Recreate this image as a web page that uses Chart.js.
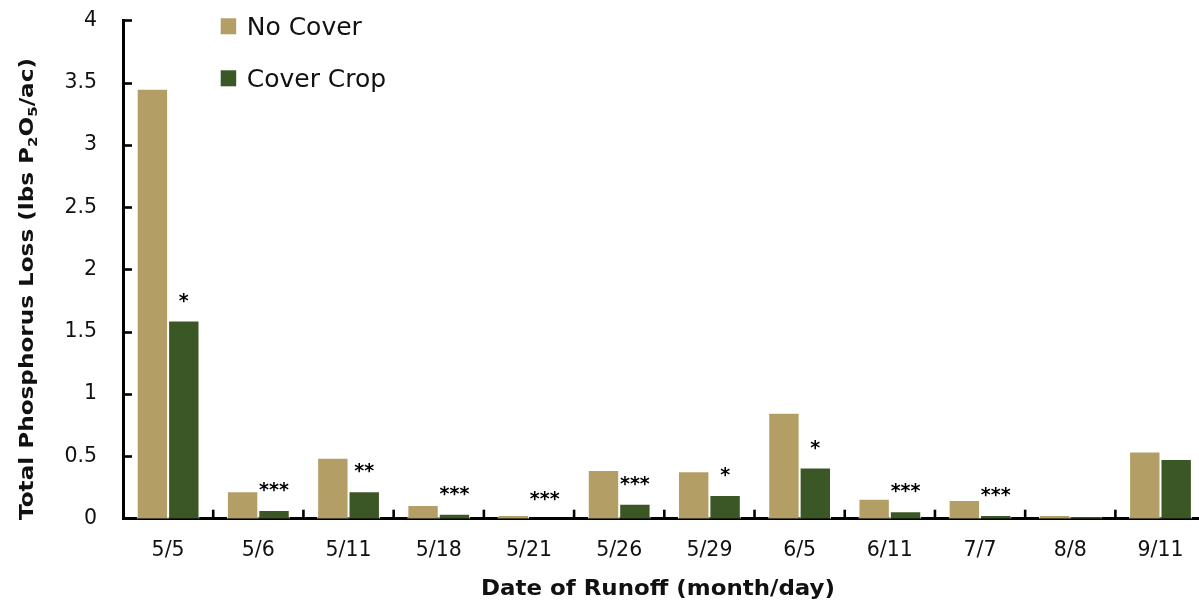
<!DOCTYPE html>
<html>
<head>
<meta charset="utf-8">
<script src="https://cdn.jsdelivr.net/npm/chart.js@4.4.0/dist/chart.umd.min.js"></script>
<style>
  html, body { margin: 0; padding: 0; background: #fff; overflow: hidden; }
  #wrap { width: 1210px; height: 607px; }
</style>
</head>
<body>
<div id="wrap"><canvas id="c" width="1210" height="607"></canvas></div>
<script>
// ---- data ----
const categories = ['5/5','5/6','5/11','5/18','5/21','5/26','5/29','6/5','6/11','7/7','8/8','9/11'];
const noCover    = [3.45, 0.22, 0.49, 0.11, 0.03, 0.39, 0.38, 0.85, 0.16, 0.15, 0.03, 0.54];
const coverCrop  = [1.59, 0.07, 0.22, 0.04, 0.00, 0.12, 0.19, 0.41, 0.06, 0.03, 0.02, 0.48];
const significance = ['*','***','**','***','***','***','*','*','***','***','',''];
const seriesNames = ['No Cover', 'Cover Crop'];
const yMin = 0, yMax = 4, yStep = 0.5;
const xTitle = 'Date of Runoff (month/day)';
const yTitleParts = [
  ['Total Phosphorus Loss (lbs P', false], ['2', true], ['O', false], ['5', true], ['/ac)', false]
];

// ---- styles ----
const TAN = '#B39F66';
const GREEN = '#3C5726';
const FONT = '"DejaVu Sans", sans-serif';
const TEXT = '#111';
const TARGET_TOP = 20.3;

function drawFitted(ctx, text, cx, baseline, targetW, font) {
  ctx.save();
  ctx.font = font;
  const w = ctx.measureText(text).width;
  const s = targetW / w;
  ctx.translate(cx, baseline);
  ctx.scale(s, 1);
  ctx.textAlign = 'center';
  ctx.textBaseline = 'alphabetic';
  ctx.fillText(text, 0, 0);
  ctx.restore();
}

const decor = {
  id: 'decor',
  afterDraw(chart) {
    const ctx = chart.ctx;
    const xs = chart.scales.x, ys = chart.scales.y;
    const area = chart.chartArea;
    ctx.save();
    ctx.strokeStyle = '#000';
    ctx.lineWidth = 2.6;
    // inner y ticks
    for (let v = yMin + yStep; v <= yMax + 1e-9; v += yStep) {
      const y = Math.round(ys.getPixelForValue(v)) + 0.5;
      ctx.beginPath(); ctx.moveTo(area.left, y); ctx.lineTo(area.left + 9, y); ctx.stroke();
    }
    // inner x ticks at category boundaries
    for (let i = 1; i < categories.length; i++) {
      const x = (xs.getPixelForValue(i - 1) + xs.getPixelForValue(i)) / 2;
      ctx.beginPath(); ctx.moveTo(x, area.bottom); ctx.lineTo(x, area.bottom - 9); ctx.stroke();
    }
    // significance stars
    const meta = chart.getDatasetMeta(1);
    ctx.fillStyle = '#000';
    ctx.font = 'bold 19px ' + FONT;
    ctx.textAlign = 'center';
    ctx.textBaseline = 'alphabetic';
    significance.forEach((s, i) => {
      if (!s) return;
      const bar = meta.data[i];
      ctx.fillText(s, bar.x, bar.y - 25 + 11);
    });
    // legend
    const leg = [[TAN, seriesNames[0], 18.3, 35], [GREEN, seriesNames[1], 70.3, 86.5]];
    ctx.font = '25px ' + FONT;
    ctx.textAlign = 'left';
    leg.forEach(([c, t, sy, by]) => {
      ctx.fillStyle = c;
      ctx.fillRect(220.7, sy, 15.5, 16);
      ctx.fillStyle = TEXT;
      ctx.fillText(t, 246.7, by);
    });
    // x title
    ctx.fillStyle = TEXT;
    drawFitted(ctx, xTitle, 658, 595, 354, 'bold 22px ' + FONT);
    // y title with subscripts
    ctx.save();
    const mainFont = 'bold 20px ' + FONT, subFont = 'bold 13px ' + FONT;
    let total = 0;
    yTitleParts.forEach(([t, sub]) => { ctx.font = sub ? subFont : mainFont; total += ctx.measureText(t).width; });
    const targetLen = 462;
    const sc = targetLen / total;
    ctx.translate(33, 289);
    ctx.rotate(-Math.PI / 2);
    ctx.scale(sc, 1);
    let x = -total / 2;
    ctx.textAlign = 'left';
    yTitleParts.forEach(([t, sub]) => {
      ctx.font = sub ? subFont : mainFont;
      ctx.fillText(t, x, sub ? 4 : 0);
      x += ctx.measureText(t).width;
    });
    ctx.restore();
    ctx.restore();
  }
};

const chart = new Chart(document.getElementById('c'), {
  type: 'bar',
  data: {
    labels: categories,
    datasets: [
      { label: seriesNames[0], data: noCover, backgroundColor: TAN,
        borderColor: '#ffffff', borderWidth: {top: 1, left: 1, right: 1, bottom: 0}, borderSkipped: 'start' },
      { label: seriesNames[1], data: coverCrop, backgroundColor: GREEN,
        borderColor: '#ffffff', borderWidth: {top: 1, left: 1, right: 1, bottom: 0}, borderSkipped: 'start' }
    ]
  },
  options: {
    responsive: false,
    animation: false,
    devicePixelRatio: 1,
    categoryPercentage: 0.696,
    barPercentage: 1.0,
    layout: { padding: { top: TARGET_TOP, right: 4.4, left: 0, bottom: 0 } },
    plugins: { legend: { display: false }, tooltip: { enabled: false } },
    scales: {
      x: {
        offset: true,
        grid: { display: false, drawTicks: false },
        border: { display: true, color: '#000', width: 3 },
        ticks: { color: TEXT, font: { family: FONT, size: 20.5 }, padding: 20, maxRotation: 0, autoSkip: false },
        afterFit(s) { s.height = 88.3; }
      },
      y: {
        min: yMin, max: yMax,
        grid: { display: false, drawTicks: false },
        border: { display: true, color: '#000', width: 3 },
        ticks: { stepSize: yStep, color: TEXT, font: { family: FONT, size: 20.5 }, padding: 26,
                 callback: (v) => String(+v.toFixed(2)) },
        afterFit(s) { s.width = 123; s.paddingTop = 0; s.paddingBottom = 0; }
      }
    }
  },
  plugins: [decor]
});
// nudge the layout so the plot top sits where the reference has it
for (let k = 0; k < 3; k++) {
  const diff = chart.chartArea.top - TARGET_TOP;
  if (Math.abs(diff) < 0.2) break;
  chart.options.layout.padding.top = Math.max(0, chart.options.layout.padding.top - diff);
  chart.update();
}
</script>
</body>
</html>
